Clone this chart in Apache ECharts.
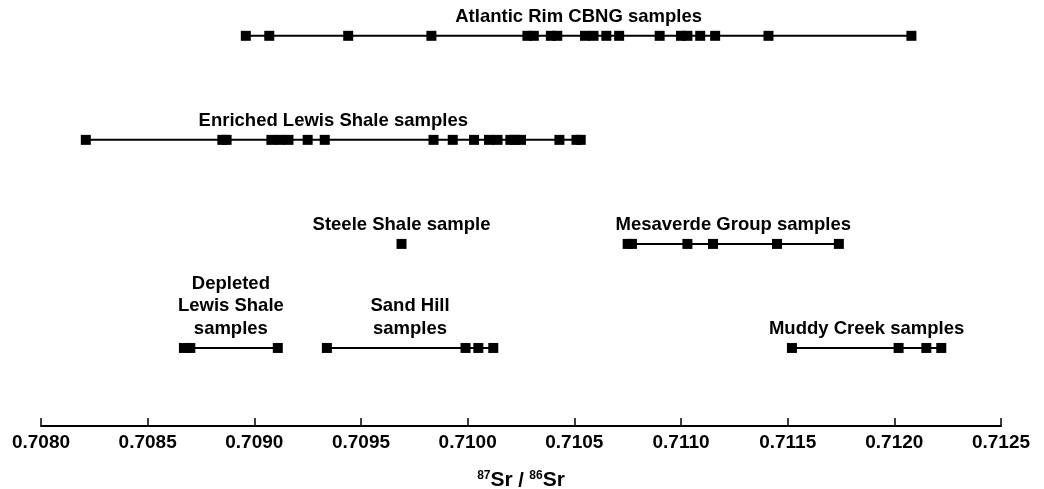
<!DOCTYPE html>
<html>
    <head>
        <title></title>
        <meta charset="UTF-8">
        <style>
            html, body { margin: 0; padding: 0; background: #fff; }
            #chart { position: absolute; left: 0; top: 0; width: 1044px; height: 489px; }
        </style>
        <script src="https://cdn.jsdelivr.net/npm/echarts@6/dist/echarts.min.js"></script>
    </head>
    <body>
        <div id="chart"></div>
    </body>
    <script>
        // 87Sr/86Sr values
        var atlanticRim = [0.70896, 0.70907, 0.70944, 0.70983, 0.71028, 0.71031, 0.71039, 0.71042, 0.71055, 0.71059,
                           0.71065, 0.71071, 0.71090, 0.71100, 0.71103, 0.71109, 0.71116, 0.71141, 0.71208];
        var enrichedLewis = [0.70821, 0.70885, 0.70887, 0.70908, 0.70912, 0.70916, 0.70925, 0.70933, 0.70984, 0.70993,
                             0.71003, 0.71010, 0.71014, 0.71020, 0.71022, 0.71025, 0.71043, 0.71051, 0.71053];
        var steeleShale = [0.70969];
        var mesaverde = [0.71075, 0.71077, 0.71103, 0.71115, 0.71145, 0.71174];
        var depletedLewis = [0.70867, 0.70870, 0.70911];
        var sandHill = [0.70934, 0.70999, 0.71005, 0.71012];
        var muddyCreek = [0.71152, 0.71202, 0.71215, 0.71222];

        var groups = [
            { name: 'Atlantic Rim CBNG samples', row: 4, values: atlanticRim },
            { name: 'Enriched Lewis Shale samples', row: 3, values: enrichedLewis },
            { name: 'Steele Shale sample', row: 2, values: steeleShale },
            { name: 'Mesaverde Group samples', row: 2, values: mesaverde },
            { name: 'Depleted\nLewis Shale\nsamples', row: 1, values: depletedLewis },
            { name: 'Sand Hill\nsamples', row: 1, values: sandHill },
            { name: 'Muddy Creek samples', row: 1, values: muddyCreek }
        ];

        var xMin = 0.7080, xMax = 0.7125, xStep = 0.0005;
        var font = '"Liberation Sans", Arial, sans-serif';

        var series = groups.map(function (g) {
            return {
                name: g.name,
                type: 'line',
                data: g.values.map(function (v) { return [v, g.row]; }),
                symbol: 'rect',
                symbolSize: 10,
                showSymbol: true,
                itemStyle: { color: '#000' },
                lineStyle: { color: '#000', width: 2 },
                silent: true,
                z: 2
            };
        });

        // group labels, centred over each group's span
        series.push({
            type: 'scatter',
            symbolSize: 0,
            silent: true,
            itemStyle: { color: '#000', opacity: 1 },
            data: groups.map(function (g) {
                var lo = Math.min.apply(null, g.values), hi = Math.max.apply(null, g.values);
                return { name: g.name, value: [(lo + hi) / 2, g.row] };
            }),
            label: {
                show: true,
                position: 'top',
                distance: 8,
                formatter: '{b}',
                color: '#000',
                fontFamily: font,
                fontWeight: 'bold',
                fontSize: 18.5,
                lineHeight: 22.5,
                align: 'center'
            },
            z: 3
        });

        var chart = echarts.init(document.getElementById('chart'));
        chart.setOption({
            animation: false,
            backgroundColor: '#fff',
            grid: { left: 41, right: 43, top: 15, bottom: 63, containLabel: false, outerBoundsMode: 'none' },
            xAxis: {
                type: 'value',
                min: xMin,
                max: xMax,
                interval: xStep,
                axisLine: { show: true, onZero: false, lineStyle: { color: '#000', width: 2 } },
                axisTick: { show: true, inside: true, length: 8, lineStyle: { color: '#000', width: 1.5 } },
                splitLine: { show: false },
                axisLabel: {
                    color: '#000',
                    fontFamily: font,
                    fontWeight: 'bold',
                    fontSize: 19,
                    margin: 7,
                    formatter: function (v) { return v.toFixed(4); }
                },
                name: '{sup|87}{b|Sr}{n| / }{sup|86}{b|Sr}',
                nameLocation: 'middle',
                nameGap: 44,
                nameTextStyle: {
                    rich: {
                        b: { fontFamily: font, fontWeight: 'bold', fontSize: 21, color: '#000', verticalAlign: 'bottom' },
                        n: { fontFamily: font, fontWeight: 'bold', fontSize: 20, color: '#000', verticalAlign: 'bottom' },
                        sup: { fontFamily: font, fontWeight: 'bold', fontSize: 12, color: '#000', verticalAlign: 'top' }
                    }
                }
            },
            yAxis: {
                type: 'value',
                min: 0.25,
                max: 4.2,
                show: false
            },
            series: series
        });
    </script>
</html>
